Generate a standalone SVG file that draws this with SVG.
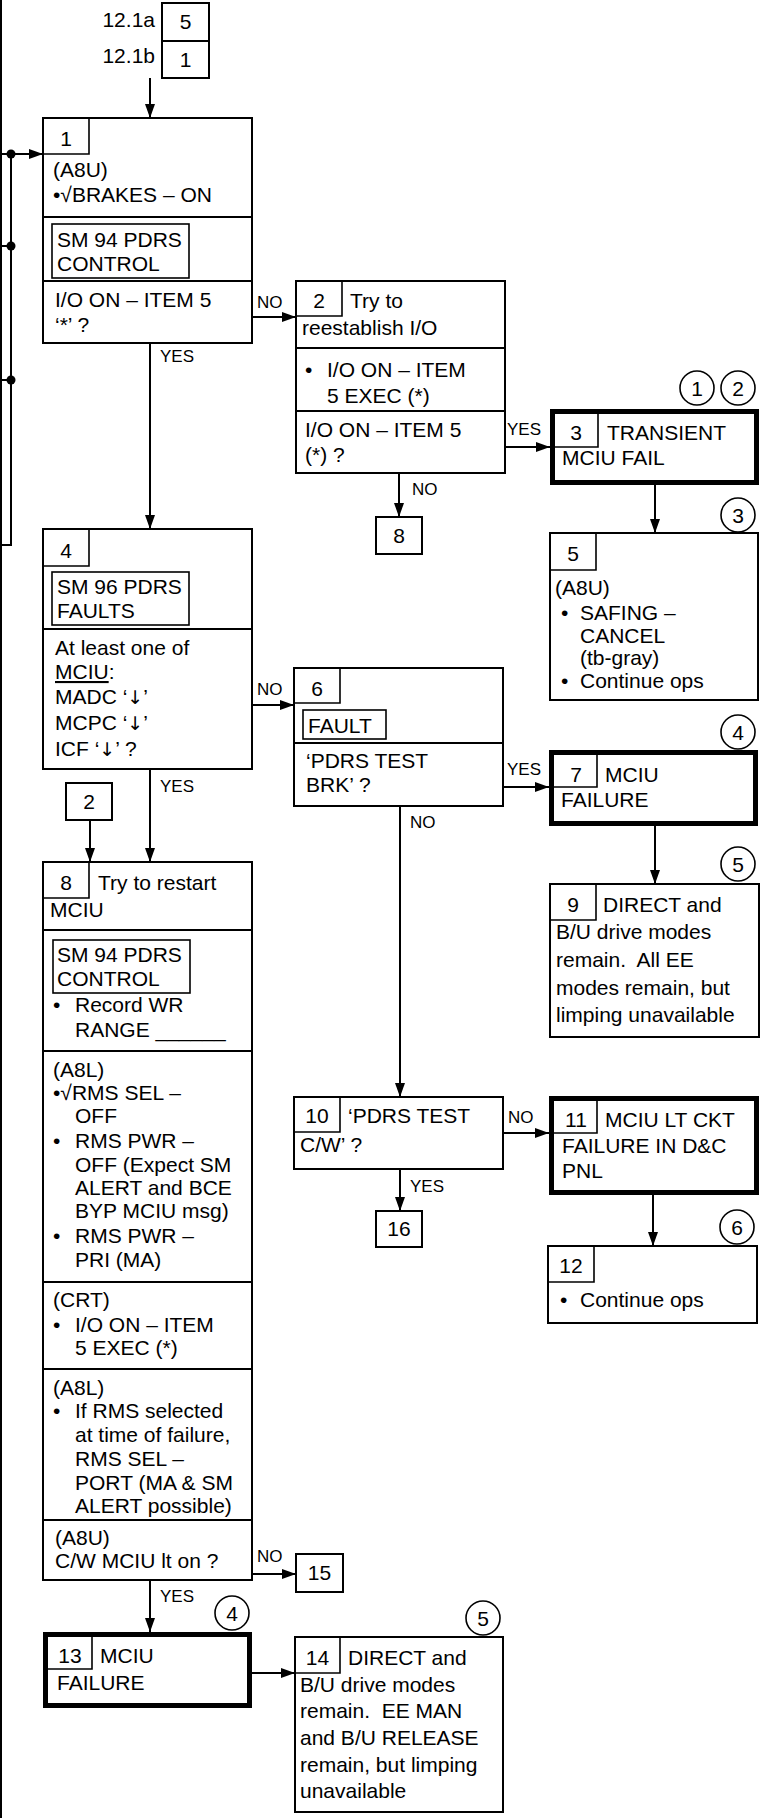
<svg xmlns="http://www.w3.org/2000/svg" width="764" height="1818" viewBox="0 0 764 1818">
<style>
.b{fill:#fff;stroke:#000;stroke-width:2}
.k{fill:#fff;stroke:#000;stroke-width:5}
.n{fill:none;stroke:#000;stroke-width:1.6}
.c{fill:none;stroke:#000;stroke-width:2}
.t{font-family:"Liberation Sans",Arial,sans-serif;font-size:21px;fill:#000;white-space:pre}
.m{text-anchor:middle}
.l{font-family:"Liberation Sans Narrow","Liberation Sans",Arial,sans-serif;font-size:17px;fill:#000}
.o{fill:none;stroke:#000;stroke-width:1.6}
.ar{font-family:"DejaVu Sans",sans-serif;font-size:19px}
</style>
<defs>
<marker id="a" viewBox="0 0 14 10" refX="14" refY="5" markerWidth="14" markerHeight="10" markerUnits="userSpaceOnUse" orient="auto"><path d="M0,0L14,5L0,10z" fill="#000"/></marker>
</defs>
<rect width="764" height="1818" fill="#fff"/>

<g id="left-bus">
<line class="c" x1="1" y1="0" x2="1" y2="1818"/>
<polyline class="c" points="11,154 11,545 0,545"/>
<line class="c" x1="0" y1="246" x2="11" y2="246"/>
<line class="c" x1="0" y1="380" x2="11" y2="380"/>
<circle cx="11" cy="154" r="4.5"/>
<circle cx="11" cy="246" r="4.5"/>
<circle cx="11" cy="380" r="4.5"/>
</g>

<g id="connectors">
<line class="c" x1="150" y1="78" x2="150" y2="118" marker-end="url(#a)"/>
<line class="c" x1="0" y1="154" x2="43" y2="154" marker-end="url(#a)"/>
<line class="c" x1="252" y1="317" x2="296" y2="317" marker-end="url(#a)"/>
<text class="l" x="257" y="308">NO</text>
<line class="c" x1="150" y1="343" x2="150" y2="529" marker-end="url(#a)"/>
<text class="l" x="160" y="362">YES</text>
<line class="c" x1="505" y1="447" x2="550" y2="447" marker-end="url(#a)"/>
<text class="l" x="507" y="435">YES</text>
<line class="c" x1="399" y1="473" x2="399" y2="517" marker-end="url(#a)"/>
<text class="l" x="412" y="495">NO</text>
<line class="c" x1="655" y1="485" x2="655" y2="533" marker-end="url(#a)"/>
<line class="c" x1="252" y1="705" x2="294" y2="705" marker-end="url(#a)"/>
<text class="l" x="257" y="695">NO</text>
<line class="c" x1="150" y1="769" x2="150" y2="862" marker-end="url(#a)"/>
<text class="l" x="160" y="792">YES</text>
<line class="c" x1="90" y1="820" x2="90" y2="862" marker-end="url(#a)"/>
<line class="c" x1="503" y1="787" x2="549" y2="787" marker-end="url(#a)"/>
<text class="l" x="507" y="775">YES</text>
<line class="c" x1="655" y1="826" x2="655" y2="884" marker-end="url(#a)"/>
<line class="c" x1="400" y1="806" x2="400" y2="1097" marker-end="url(#a)"/>
<text class="l" x="410" y="828">NO</text>
<line class="c" x1="503" y1="1133" x2="549" y2="1133" marker-end="url(#a)"/>
<text class="l" x="508" y="1123">NO</text>
<line class="c" x1="400" y1="1169" x2="400" y2="1211" marker-end="url(#a)"/>
<text class="l" x="410" y="1192">YES</text>
<line class="c" x1="653" y1="1195" x2="653" y2="1246" marker-end="url(#a)"/>
<line class="c" x1="252" y1="1574" x2="296" y2="1574" marker-end="url(#a)"/>
<text class="l" x="257" y="1562">NO</text>
<line class="c" x1="150" y1="1580" x2="150" y2="1632" marker-end="url(#a)"/>
<text class="l" x="160" y="1602">YES</text>
<line class="c" x1="252" y1="1673" x2="295" y2="1673" marker-end="url(#a)"/>
</g>

<g id="refs-top">
<text class="t" x="155" y="27" text-anchor="end">12.1a</text>
<rect class="b" x="162" y="3" width="47" height="38"/>
<text class="t m" x="185.5" y="29">5</text>
<text class="t" x="155" y="63" text-anchor="end">12.1b</text>
<rect class="b" x="162" y="41" width="47" height="37"/>
<text class="t m" x="185.5" y="67">1</text>
</g>

<g id="node1">
<rect class="b" x="43" y="118" width="209" height="225"/>
<path class="n" d="M43,154H89V118"/>
<text class="t m" x="66" y="146">1</text>
<text class="t" x="53" y="177">(A8U)</text>
<text class="t" x="53" y="202">•√BRAKES – ON</text>
<line class="c" x1="43" y1="217" x2="252" y2="217"/>
<rect class="n" x="52" y="224" width="137" height="54"/>
<text class="t" x="57" y="247">SM 94 PDRS</text>
<text class="t" x="57" y="271">CONTROL</text>
<line class="c" x1="43" y1="281" x2="252" y2="281"/>
<text class="t" x="55" y="307">I/O ON – ITEM 5</text>
<text class="t" x="55" y="332">‘*’ ?</text>
</g>

<g id="node2">
<rect class="b" x="296" y="281" width="209" height="192"/>
<path class="n" d="M296,316H342V281"/>
<text class="t m" x="319" y="308">2</text>
<text class="t" x="350" y="308">Try to</text>
<text class="t" x="302" y="335">reestablish I/O</text>
<line class="c" x1="296" y1="348" x2="505" y2="348"/>
<text class="t" x="305" y="377">•</text>
<text class="t" x="327" y="377">I/O ON – ITEM</text>
<text class="t" x="327" y="403">5 EXEC (*)</text>
<line class="c" x1="296" y1="411" x2="505" y2="411"/>
<text class="t" x="305" y="437">I/O ON – ITEM 5</text>
<text class="t" x="305" y="462">(*) ?</text>
</g>

<g id="ref8a">
<rect class="b" x="376" y="517" width="46" height="37"/>
<text class="t m" x="399" y="543">8</text>
</g>

<g id="node3">
<circle class="o" cx="697" cy="388" r="17"/>
<text class="t m" x="697" y="396">1</text>
<circle class="o" cx="738" cy="388" r="17"/>
<text class="t m" x="738" y="396">2</text>
<rect class="k" x="552.5" y="411.5" width="204" height="71"/>
<path class="n" d="M554,447H598V414"/>
<text class="t m" x="576" y="440">3</text>
<text class="t" x="607" y="440">TRANSIENT</text>
<text class="t" x="562" y="465">MCIU FAIL</text>
</g>

<g id="node5">
<circle class="o" cx="738" cy="515" r="17"/>
<text class="t m" x="738" y="523">3</text>
<rect class="b" x="550" y="533" width="208" height="167"/>
<path class="n" d="M550,570H596V533"/>
<text class="t m" x="573" y="561">5</text>
<text class="t" x="555" y="595">(A8U)</text>
<text class="t" x="561" y="620">•</text>
<text class="t" x="580" y="620">SAFING –</text>
<text class="t" x="580" y="643">CANCEL</text>
<text class="t" x="580" y="665">(tb-gray)</text>
<text class="t" x="561" y="688">•</text>
<text class="t" x="580" y="688">Continue ops</text>
</g>

<g id="node4">
<rect class="b" x="43" y="529" width="209" height="240"/>
<path class="n" d="M43,566H89V529"/>
<text class="t m" x="66" y="558">4</text>
<rect class="n" x="52" y="572" width="137" height="53"/>
<text class="t" x="57" y="594">SM 96 PDRS</text>
<text class="t" x="57" y="618">FAULTS</text>
<line class="c" x1="43" y1="629" x2="252" y2="629"/>
<text class="t" x="55" y="655">At least one of</text>
<text class="t" x="55" y="679"><tspan text-decoration="underline">MCIU</tspan>:</text>
<text class="t" x="55" y="704">MADC ‘<tspan class="ar">↓</tspan>’</text>
<text class="t" x="55" y="730">MCPC ‘<tspan class="ar">↓</tspan>’</text>
<text class="t" x="55" y="756">ICF ‘<tspan class="ar">↓</tspan>’ ?</text>
</g>

<g id="ref2">
<rect class="b" x="66" y="783" width="46" height="37"/>
<text class="t m" x="89" y="809">2</text>
</g>

<g id="node6">
<rect class="b" x="294" y="668" width="209" height="138"/>
<path class="n" d="M294,703H340V668"/>
<text class="t m" x="317" y="696">6</text>
<rect class="n" x="303" y="710" width="83" height="29"/>
<text class="t" x="308" y="733">FAULT</text>
<line class="c" x1="294" y1="743" x2="503" y2="743"/>
<text class="t" x="306" y="768">‘PDRS TEST</text>
<text class="t" x="306" y="792">BRK’ ?</text>
</g>

<g id="node7">
<circle class="o" cx="738" cy="732" r="17"/>
<text class="t m" x="738" y="740">4</text>
<rect class="k" x="551.5" y="752.5" width="204" height="71"/>
<path class="n" d="M554,787H597V755"/>
<text class="t m" x="576" y="782">7</text>
<text class="t" x="605" y="782">MCIU</text>
<text class="t" x="561" y="807">FAILURE</text>
</g>

<g id="node9">
<circle class="o" cx="738" cy="864" r="17"/>
<text class="t m" x="738" y="872">5</text>
<rect class="b" x="550" y="884" width="209" height="153"/>
<path class="n" d="M550,920H596V884"/>
<text class="t m" x="573" y="912">9</text>
<text class="t" x="603" y="912">DIRECT and</text>
<text class="t" x="556" y="939">B/U drive modes</text>
<text class="t" x="556" y="967">remain.  All EE</text>
<text class="t" x="556" y="995">modes remain, but</text>
<text class="t" x="556" y="1022">limping unavailable</text>
</g>

<g id="node8">
<rect class="b" x="43" y="862" width="209" height="718"/>
<path class="n" d="M43,898H89V862"/>
<text class="t m" x="66" y="890">8</text>
<text class="t" x="98" y="890">Try to restart</text>
<text class="t" x="50" y="917">MCIU</text>
<line class="c" x1="43" y1="930" x2="252" y2="930"/>
<rect class="n" x="53" y="940" width="137" height="53"/>
<text class="t" x="57" y="962">SM 94 PDRS</text>
<text class="t" x="57" y="986">CONTROL</text>
<text class="t" x="53" y="1012">•</text>
<text class="t" x="75" y="1012">Record WR</text>
<text class="t" x="75" y="1037">RANGE ______</text>
<line class="c" x1="43" y1="1051" x2="252" y2="1051"/>
<text class="t" x="53" y="1077">(A8L)</text>
<text class="t" x="53" y="1100">•√RMS SEL –</text>
<text class="t" x="75" y="1123">OFF</text>
<text class="t" x="53" y="1148">•</text>
<text class="t" x="75" y="1148">RMS PWR –</text>
<text class="t" x="75" y="1172">OFF (Expect SM</text>
<text class="t" x="75" y="1195">ALERT and BCE</text>
<text class="t" x="75" y="1218">BYP MCIU msg)</text>
<text class="t" x="53" y="1243">•</text>
<text class="t" x="75" y="1243">RMS PWR –</text>
<text class="t" x="75" y="1267">PRI (MA)</text>
<line class="c" x1="43" y1="1282" x2="252" y2="1282"/>
<text class="t" x="53" y="1307">(CRT)</text>
<text class="t" x="53" y="1332">•</text>
<text class="t" x="75" y="1332">I/O ON – ITEM</text>
<text class="t" x="75" y="1355">5 EXEC (*)</text>
<line class="c" x1="43" y1="1369" x2="252" y2="1369"/>
<text class="t" x="53" y="1395">(A8L)</text>
<text class="t" x="53" y="1418">•</text>
<text class="t" x="75" y="1418">If RMS selected</text>
<text class="t" x="75" y="1442">at time of failure,</text>
<text class="t" x="75" y="1466">RMS SEL –</text>
<text class="t" x="75" y="1490">PORT (MA &amp; SM</text>
<text class="t" x="75" y="1513">ALERT possible)</text>
<line class="c" x1="43" y1="1520" x2="252" y2="1520"/>
<text class="t" x="55" y="1545">(A8U)</text>
<text class="t" x="55" y="1568">C/W MCIU lt on ?</text>
</g>

<g id="node10">
<rect class="b" x="294" y="1097" width="209" height="72"/>
<path class="n" d="M294,1132H340V1097"/>
<text class="t m" x="317" y="1123">10</text>
<text class="t" x="348" y="1123">‘PDRS TEST</text>
<text class="t" x="300" y="1152">C/W’ ?</text>
</g>

<g id="node11">
<rect class="k" x="551.5" y="1098.5" width="205" height="94"/>
<path class="n" d="M554,1133H597V1101"/>
<text class="t m" x="576" y="1127">11</text>
<text class="t" x="605" y="1127">MCIU LT CKT</text>
<text class="t" x="562" y="1153">FAILURE IN D&amp;C</text>
<text class="t" x="562" y="1178">PNL</text>
</g>

<g id="ref16">
<rect class="b" x="376" y="1211" width="46" height="36"/>
<text class="t m" x="399" y="1236">16</text>
</g>

<g id="node12">
<circle class="o" cx="737" cy="1227" r="17"/>
<text class="t m" x="737" y="1235">6</text>
<rect class="b" x="548" y="1246" width="209" height="77"/>
<path class="n" d="M548,1282H594V1246"/>
<text class="t m" x="571" y="1273">12</text>
<text class="t" x="560" y="1307">•</text>
<text class="t" x="580" y="1307">Continue ops</text>
</g>

<g id="ref15">
<rect class="b" x="296" y="1554" width="47" height="38"/>
<text class="t m" x="319.5" y="1580">15</text>
</g>

<g id="node13">
<circle class="o" cx="232" cy="1613" r="17"/>
<text class="t m" x="232" y="1621">4</text>
<rect class="k" x="45.5" y="1634.5" width="204" height="71"/>
<path class="n" d="M48,1669H92V1637"/>
<text class="t m" x="70" y="1663">13</text>
<text class="t" x="100" y="1663">MCIU</text>
<text class="t" x="57" y="1690">FAILURE</text>
</g>

<g id="node14">
<circle class="o" cx="483" cy="1618" r="17"/>
<text class="t m" x="483" y="1626">5</text>
<rect class="b" x="295" y="1637" width="208" height="175"/>
<path class="n" d="M295,1673H340V1637"/>
<text class="t m" x="317.5" y="1665">14</text>
<text class="t" x="348" y="1665">DIRECT and</text>
<text class="t" x="300" y="1692">B/U drive modes</text>
<text class="t" x="300" y="1718">remain.  EE MAN</text>
<text class="t" x="300" y="1745">and B/U RELEASE</text>
<text class="t" x="300" y="1772">remain, but limping</text>
<text class="t" x="300" y="1798">unavailable</text>
</g>
</svg>
